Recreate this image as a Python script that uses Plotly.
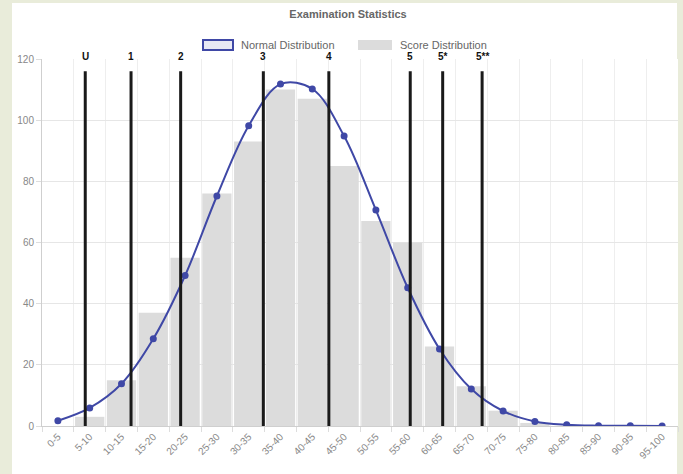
import plotly.graph_objects as go

# ---------------- data ----------------
categories = ["0-5", "5-10", "10-15", "15-20", "20-25", "25-30", "30-35", "35-40",
              "40-45", "45-50", "50-55", "55-60", "60-65", "65-70", "70-75", "75-80",
              "80-85", "85-90", "90-95", "95-100"]
score_counts = [0, 3, 15, 37, 55, 76, 93, 110, 107, 85, 67, 60, 26, 13, 5, 1, 0, 0, 0, 0]
normal_values = [1.7, 5.9, 13.8, 28.5, 49.2, 75.2, 98.2, 111.8, 110.2, 94.8, 70.6, 45.2,
                 25.2, 12.1, 4.9, 1.5, 0.4, 0.1, 0.05, 0.0]
grade_labels = ["U", "1", "2", "3", "4", "5", "5*", "5**"]
grade_cutoffs = [6.8, 14.0, 21.8, 34.8, 45.1, 57.9, 63.0, 69.2]
bin_width = 5
grade_line_top = 116
y_max = 120

FONT = "Liberation Sans, Arial, sans-serif"
GREY_TXT = "#666666"
BLUE = "#3f48a6"
BAR = "#dcdcdc"

W, H = 683, 474
L, R, T, B = 42, 5, 59, 48
PW, PH = W - L - R, H - T - B


def fx(px):
    return (px - L) / PW


def fy(py):
    return (H - B - py) / PH


fig = go.Figure()

fig.add_trace(go.Bar(
    x=categories, y=score_counts, name="Score Distribution",
    marker=dict(color=BAR, line=dict(width=0)), showlegend=False,
))
fig.add_trace(go.Scatter(
    x=categories, y=normal_values, name="Normal Distribution", mode="lines+markers",
    line=dict(color=BLUE, width=2, shape="spline", smoothing=1.0),
    marker=dict(color=BLUE, size=7), showlegend=False,
))

shapes = []
annotations = []

# white card on beige background
shapes.append(dict(type="rect", xref="paper", yref="paper", layer="below",
                   x0=fx(12), x1=fx(677), y0=fy(474), y1=fy(3),
                   fillcolor="white", line=dict(width=0)))

# grade boundary lines
for lab, cut in zip(grade_labels, grade_cutoffs):
    xpos = (cut - bin_width / 2) / bin_width
    shapes.append(dict(type="line", xref="x", yref="y", layer="above",
                       x0=xpos, x1=xpos, y0=0, y1=grade_line_top,
                       line=dict(color="#1a1a1a", width=3)))
    annotations.append(dict(x=xpos, y=fy(57), xref="x", yref="paper", text="<b>%s</b>" % lab,
                            showarrow=False, yanchor="middle", xanchor="center",
                            font=dict(family=FONT, size=10, color="#111111")))

# custom legend
shapes.append(dict(type="rect", xref="paper", yref="paper",
                   x0=fx(203), x1=fx(233), y0=fy(50), y1=fy(40),
                   fillcolor="rgba(63,72,166,0.12)", line=dict(color=BLUE, width=2)))
annotations.append(dict(x=fx(239), y=fy(45), xref="paper", yref="paper",
                        text="Normal Distribution", showarrow=False,
                        xanchor="left", yanchor="middle",
                        font=dict(family=FONT, size=11, color=GREY_TXT)))
shapes.append(dict(type="rect", xref="paper", yref="paper",
                   x0=fx(358), x1=fx(392), y0=fy(50), y1=fy(40),
                   fillcolor=BAR, line=dict(width=0)))
annotations.append(dict(x=fx(398), y=fy(45), xref="paper", yref="paper",
                        text="Score Distribution", showarrow=False,
                        xanchor="left", yanchor="middle",
                        font=dict(family=FONT, size=11, color=GREY_TXT)))

fig.update_layout(
    width=W, height=H,
    margin=dict(l=L, r=R, t=T, b=B, autoexpand=False),
    paper_bgcolor="#e9ecda",
    plot_bgcolor="white",
    bargap=0.08,
    title=dict(text="<b>Examination Statistics</b>", x=348 / W, xref="container",
               y=1 - 14 / H, yref="container", xanchor="center", yanchor="middle",
               font=dict(family=FONT, size=11, color=GREY_TXT)),
    shapes=shapes,
    annotations=annotations,
    xaxis=dict(type="category", tickson="boundaries", showgrid=True, gridcolor="#eeeeee",
               ticks="outside", ticklen=5, tickcolor="#dddddd", automargin=False,
               showline=True, linecolor="#cfcfcf", linewidth=1,
               tickangle=-45, tickfont=dict(family=FONT, size=10, color="#888888"),
               range=[-0.5, len(categories) - 0.5]),
    yaxis=dict(range=[0, y_max], dtick=20, showgrid=True, gridcolor="#e6e6e6",
               showline=True, linecolor="#cfcfcf", linewidth=1, automargin=False,
               ticks="outside", ticklen=5, tickcolor="#dddddd",
               zeroline=False, tickfont=dict(family=FONT, size=10, color="#888888")),
    font=dict(family=FONT),
)

fig.write_html("out.html", config={"displayModeBar": False},
               post_script="document.body.style.margin='0';document.body.style.overflow='hidden';")
